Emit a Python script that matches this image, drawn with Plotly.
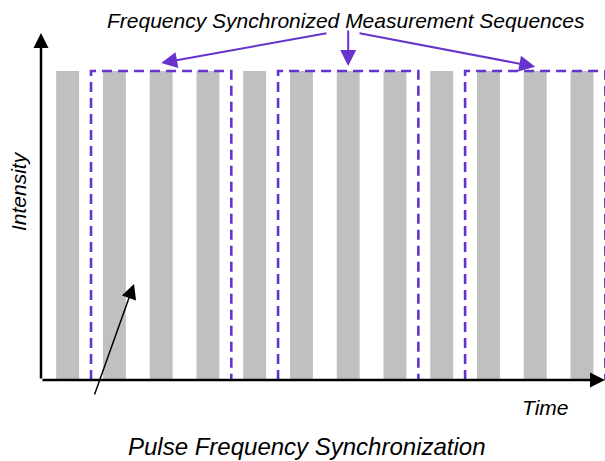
import plotly.graph_objects as go

# ---- data ----
pulse_times = [0, 1, 2, 3, 4, 5, 6, 7, 8, 9, 10, 11]          # pulse index (time, in periods)
pulse_intensity = [1, 1, 1, 1, 1, 1, 1, 1, 1, 1, 1, 1]
sequence_first_pulse = [1, 5, 9]
sequence_last_pulse = [3, 7, 11]
sequence_target_pulse = [2, 6, 10]

title_text = "Frequency Synchronized Measurement Sequences"
caption_text = "Pulse Frequency Synchronization"
x_label = "Time"
y_label = "Intensity"

# ---- style ----
BAR_GRAY = "#c0c0c0"
PURPLE = "#6633cc"
FONT = "Liberation Sans, Arial, sans-serif"
X_RANGE = [-0.570, 11.492]
Y_RANGE = [0, 1.2298]


def px_(x):
    return (x - X_RANGE[0]) / (X_RANGE[1] - X_RANGE[0])


def py_(y):
    return (y - Y_RANGE[0]) / (Y_RANGE[1] - Y_RANGE[0])


fig = go.Figure()
fig.add_trace(go.Bar(x=pulse_times, y=pulse_intensity, width=0.49,
                     marker=dict(color=BAR_GRAY, line=dict(width=0)),
                     hoverinfo="skip", showlegend=False))

# dashed open rectangles for the measurement sequences
for s, e in zip(sequence_first_pulse, sequence_last_pulse):
    fig.add_trace(go.Scatter(x=[s - 0.5, s - 0.5, e + 0.5, e + 0.5],
                             y=[0, 1, 1, 0], mode="lines",
                             line=dict(color=PURPLE, width=2.6, dash="10px,6px"),
                             hoverinfo="skip", showlegend=False))

ann = []
# axes arrows
ann.append(dict(x=X_RANGE[0], y=1.123, ax=X_RANGE[0], ay=0, xref="x", yref="y",
                axref="x", ayref="y", showarrow=True, arrowhead=2, arrowsize=1.2,
                arrowwidth=2.5, arrowcolor="black", text=""))
ann.append(dict(x=X_RANGE[1], y=0, ax=X_RANGE[0], ay=0, xref="x", yref="y",
                axref="x", ayref="y", showarrow=True, arrowhead=2, arrowsize=1.2,
                arrowwidth=2.5, arrowcolor="black", text=""))

# purple arrows from the title to each sequence
tails = [(5.568, 1.123), (6.0, 1.136), (6.21, 1.123)]
tip_levels = [1.026, 1.016, 1.014]
for (tx, ty), px, py in zip(tails, sequence_target_pulse, tip_levels):
    ann.append(dict(x=px, y=py, ax=tx, ay=ty, xref="x", yref="y",
                    axref="x", ayref="y", showarrow=True, arrowhead=2,
                    arrowsize=1.6, arrowwidth=2, arrowcolor=PURPLE, text=""))

# black arrow pointing at the gap between pulses
ann.append(dict(x=1.419, y=0.311, ax=0.564, ay=-0.052, xref="x", yref="y",
                axref="x", ayref="y", showarrow=True, arrowhead=2,
                arrowsize=2.0, arrowwidth=1.5, arrowcolor="black", text=""))

# texts (paper coordinates so they may sit outside the axis ranges)
ann.append(dict(x=px_(5.963), y=py_(1.165), xref="paper", yref="paper", text=title_text,
                showarrow=False, xanchor="center", yanchor="middle",
                font=dict(family=FONT, size=21, color="black", style="italic")))
ann.append(dict(x=px_(5.129), y=py_(-0.2136), xref="paper", yref="paper", text=caption_text,
                showarrow=False, xanchor="center", yanchor="middle",
                font=dict(family=FONT, size=24, color="black", style="italic")))
ann.append(dict(x=px_(10.21), y=py_(-0.0906), xref="paper", yref="paper", text=x_label,
                showarrow=False, xanchor="center", yanchor="middle",
                font=dict(family=FONT, size=21, color="black", style="italic")))
ann.append(dict(x=px_(-1.04), y=py_(0.6117), xref="paper", yref="paper", text=y_label,
                showarrow=False, xanchor="center", yanchor="middle", textangle=-90,
                font=dict(family=FONT, size=21, color="black", style="italic")))

fig.update_layout(
    width=605, height=461,
    margin=dict(l=41, r=0, t=0, b=81, pad=0),
    paper_bgcolor="white", plot_bgcolor="white",
    xaxis=dict(range=X_RANGE, visible=False, showgrid=False, zeroline=False, fixedrange=True),
    yaxis=dict(range=Y_RANGE, visible=False, showgrid=False, zeroline=False, fixedrange=True),
    annotations=ann,
    showlegend=False,
)

fig.write_html("out.html", config={"displayModeBar": False},
               post_script="document.body.style.margin='0';document.body.style.overflow='hidden';")
